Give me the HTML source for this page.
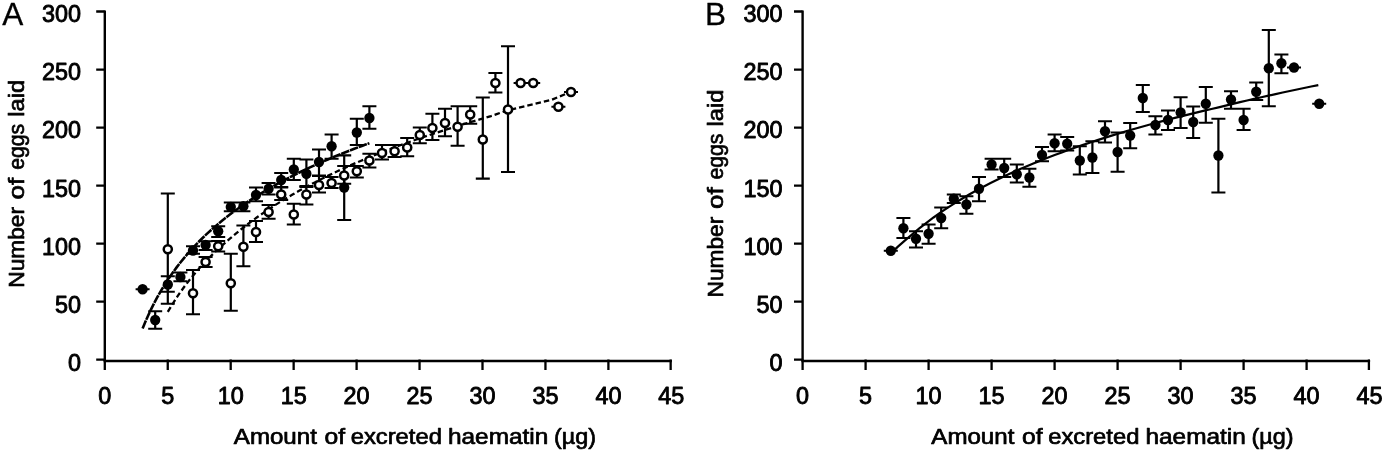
<!DOCTYPE html>
<html lang="en"><head><meta charset="utf-8"><title>Figure</title>
<style>
html,body{margin:0;padding:0;background:#fff}
svg{display:block;filter:grayscale(1)}
text{font-family:"Liberation Sans",sans-serif;fill:#000;stroke:#000;stroke-linejoin:round}
.t{font-size:23.6px;stroke-width:.9px}
.al{font-size:21.6px;stroke-width:.7px}
.yl{font-size:22.8px;stroke-width:.7px}
.pl{font-size:31.5px;stroke-width:.3px}
</style></head><body>
<svg width="1400" height="456" viewBox="0 0 1400 456">
<rect width="1400" height="456" fill="#fff"/>
<path d="M104.80 10.40V361.00" fill="none" stroke="#000" stroke-width="2.4"/>
<path d="M103.60 361.00H671.85" fill="none" stroke="#000" stroke-width="2.4"/>
<path d="M96.20 359.70H104.80M96.20 301.67H104.80M96.20 243.63H104.80M96.20 185.60H104.80M96.20 127.57H104.80M96.20 69.53H104.80M96.20 11.50H104.80M104.80 359.60V369.90M167.75 359.60V369.90M230.70 359.60V369.90M293.65 359.60V369.90M356.60 359.60V369.90M419.55 359.60V369.90M482.50 359.60V369.90M545.45 359.60V369.90M608.40 359.60V369.90M670.65 359.60V369.90" stroke="#000" stroke-width="2.3" fill="none"/>
<text x="68.10" y="370.60" class="t" textLength="13.00" lengthAdjust="spacingAndGlyphs">0</text>
<text x="55.10" y="312.57" class="t" textLength="26.00" lengthAdjust="spacingAndGlyphs">50</text>
<text x="42.10" y="254.53" class="t" textLength="39.00" lengthAdjust="spacingAndGlyphs">100</text>
<text x="42.10" y="196.50" class="t" textLength="39.00" lengthAdjust="spacingAndGlyphs">150</text>
<text x="42.10" y="138.47" class="t" textLength="39.00" lengthAdjust="spacingAndGlyphs">200</text>
<text x="42.10" y="80.43" class="t" textLength="39.00" lengthAdjust="spacingAndGlyphs">250</text>
<text x="42.10" y="22.40" class="t" textLength="39.00" lengthAdjust="spacingAndGlyphs">300</text>
<text x="98.30" y="404.0" class="t" textLength="13.00" lengthAdjust="spacingAndGlyphs">0</text>
<text x="161.25" y="404.0" class="t" textLength="13.00" lengthAdjust="spacingAndGlyphs">5</text>
<text x="217.70" y="404.0" class="t" textLength="26.00" lengthAdjust="spacingAndGlyphs">10</text>
<text x="280.65" y="404.0" class="t" textLength="26.00" lengthAdjust="spacingAndGlyphs">15</text>
<text x="343.60" y="404.0" class="t" textLength="26.00" lengthAdjust="spacingAndGlyphs">20</text>
<text x="406.55" y="404.0" class="t" textLength="26.00" lengthAdjust="spacingAndGlyphs">25</text>
<text x="469.50" y="404.0" class="t" textLength="26.00" lengthAdjust="spacingAndGlyphs">30</text>
<text x="532.45" y="404.0" class="t" textLength="26.00" lengthAdjust="spacingAndGlyphs">35</text>
<text x="595.40" y="404.0" class="t" textLength="26.00" lengthAdjust="spacingAndGlyphs">40</text>
<text x="658.35" y="404.0" class="t" textLength="26.00" lengthAdjust="spacingAndGlyphs">45</text>
<path d="M802.60 10.40V361.00" fill="none" stroke="#000" stroke-width="2.4"/>
<path d="M801.40 361.00H1370.10" fill="none" stroke="#000" stroke-width="2.4"/>
<path d="M794.00 359.70H802.60M794.00 301.67H802.60M794.00 243.63H802.60M794.00 185.60H802.60M794.00 127.57H802.60M794.00 69.53H802.60M794.00 11.50H802.60M802.60 359.60V369.90M865.60 359.60V369.90M928.60 359.60V369.90M991.60 359.60V369.90M1054.60 359.60V369.90M1117.60 359.60V369.90M1180.60 359.60V369.90M1243.60 359.60V369.90M1306.60 359.60V369.90M1368.90 359.60V369.90" stroke="#000" stroke-width="2.3" fill="none"/>
<text x="769.50" y="370.60" class="t" textLength="13.00" lengthAdjust="spacingAndGlyphs">0</text>
<text x="756.50" y="312.57" class="t" textLength="26.00" lengthAdjust="spacingAndGlyphs">50</text>
<text x="743.50" y="254.53" class="t" textLength="39.00" lengthAdjust="spacingAndGlyphs">100</text>
<text x="743.50" y="196.50" class="t" textLength="39.00" lengthAdjust="spacingAndGlyphs">150</text>
<text x="743.50" y="138.47" class="t" textLength="39.00" lengthAdjust="spacingAndGlyphs">200</text>
<text x="743.50" y="80.43" class="t" textLength="39.00" lengthAdjust="spacingAndGlyphs">250</text>
<text x="743.50" y="22.40" class="t" textLength="39.00" lengthAdjust="spacingAndGlyphs">300</text>
<text x="796.10" y="404.0" class="t" textLength="13.00" lengthAdjust="spacingAndGlyphs">0</text>
<text x="859.10" y="404.0" class="t" textLength="13.00" lengthAdjust="spacingAndGlyphs">5</text>
<text x="915.60" y="404.0" class="t" textLength="26.00" lengthAdjust="spacingAndGlyphs">10</text>
<text x="978.60" y="404.0" class="t" textLength="26.00" lengthAdjust="spacingAndGlyphs">15</text>
<text x="1041.60" y="404.0" class="t" textLength="26.00" lengthAdjust="spacingAndGlyphs">20</text>
<text x="1104.60" y="404.0" class="t" textLength="26.00" lengthAdjust="spacingAndGlyphs">25</text>
<text x="1167.60" y="404.0" class="t" textLength="26.00" lengthAdjust="spacingAndGlyphs">30</text>
<text x="1230.60" y="404.0" class="t" textLength="26.00" lengthAdjust="spacingAndGlyphs">35</text>
<text x="1293.60" y="404.0" class="t" textLength="26.00" lengthAdjust="spacingAndGlyphs">40</text>
<text x="1356.60" y="404.0" class="t" textLength="26.00" lengthAdjust="spacingAndGlyphs">45</text>
<path d="M167.80 193.50V303.75M160.80 193.50h14.0M160.80 303.75h14.0M193.00 270.00V314.25M186.00 270.00h14.0M186.00 314.25h14.0M205.60 257.00V267.00M198.60 257.00h14.0M198.60 267.00h14.0M218.20 241.00V251.50M211.20 241.00h14.0M211.20 251.50h14.0M230.80 253.75V310.75M223.80 253.75h14.0M223.80 310.75h14.0M243.40 225.50V266.25M236.40 225.50h14.0M236.40 266.25h14.0M256.00 221.00V242.00M249.00 221.00h14.0M249.00 242.00h14.0M268.60 205.00V218.75M261.60 205.00h14.0M261.60 218.75h14.0M281.20 187.50V200.00M274.20 187.50h14.0M274.20 200.00h14.0M293.80 203.75V224.50M286.80 203.75h14.0M286.80 224.50h14.0M306.40 186.00V204.50M299.40 186.00h14.0M299.40 204.50h14.0M319.00 176.00V192.50M312.00 176.00h14.0M312.00 192.50h14.0M331.60 177.00V188.00M324.60 177.00h14.0M324.60 188.00h14.0M344.20 166.00V183.75M337.20 166.00h14.0M337.20 183.75h14.0M356.80 166.00V177.50M349.80 166.00h14.0M349.80 177.50h14.0M369.40 153.75V167.50M362.40 153.75h14.0M362.40 167.50h14.0M382.00 145.00V159.50M375.00 145.00h14.0M375.00 159.50h14.0M394.60 145.00V157.00M387.60 145.00h14.0M387.60 157.00h14.0M407.20 138.00V156.25M400.20 138.00h14.0M400.20 156.25h14.0M419.80 127.50V143.25M412.80 127.50h14.0M412.80 143.25h14.0M432.40 113.75V140.00M425.40 113.75h14.0M425.40 140.00h14.0M445.00 108.75V136.25M438.00 108.75h14.0M438.00 136.25h14.0M457.60 106.25V145.75M450.60 106.25h14.0M450.60 145.75h14.0M470.20 106.25V123.75M463.20 106.25h14.0M463.20 123.75h14.0M482.80 97.50V178.60M475.80 97.50h14.0M475.80 178.60h14.0M495.40 73.00V92.50M488.40 73.00h14.0M488.40 92.50h14.0M508.00 46.25V172.00M501.00 46.25h14.0M501.00 172.00h14.0M513.60 83.00h14.0M526.20 83.00h14.0M551.40 106.75h14.0M564.00 92.00h14.0" stroke="#000" stroke-width="2.2" fill="none"/>
<path d="M135.60 289.25h14.0M155.20 311.25V328.75M148.20 311.25h14.0M148.20 328.75h14.0M167.80 276.25V291.75M160.80 276.25h14.0M160.80 291.75h14.0M180.40 272.50V281.25M173.40 272.50h14.0M173.40 281.25h14.0M193.00 246.25V253.75M186.00 246.25h14.0M186.00 253.75h14.0M205.60 241.25V250.00M198.60 241.25h14.0M198.60 250.00h14.0M218.20 226.25V237.00M211.20 226.25h14.0M211.20 237.00h14.0M230.80 202.50V211.25M223.80 202.50h14.0M223.80 211.25h14.0M243.40 202.50V211.25M236.40 202.50h14.0M236.40 211.25h14.0M256.00 187.50V201.25M249.00 187.50h14.0M249.00 201.25h14.0M268.60 183.00V194.50M261.60 183.00h14.0M261.60 194.50h14.0M281.20 173.00V187.00M274.20 173.00h14.0M274.20 187.00h14.0M293.80 158.75V180.00M286.80 158.75h14.0M286.80 180.00h14.0M306.40 159.50V187.00M299.40 159.50h14.0M299.40 187.00h14.0M319.00 149.50V175.50M312.00 149.50h14.0M312.00 175.50h14.0M331.60 134.50V158.75M324.60 134.50h14.0M324.60 158.75h14.0M344.20 155.30V220.00M337.20 155.30h14.0M337.20 220.00h14.0M356.80 118.75V145.00M349.80 118.75h14.0M349.80 145.00h14.0M369.40 106.25V128.75M362.40 106.25h14.0M362.40 128.75h14.0" stroke="#000" stroke-width="2.2" fill="none"/>
<path d="M167.80 311.88L173.47 302.52L179.14 293.90L184.81 286.03L190.48 278.73L196.15 271.92L201.82 265.52L207.49 259.50L213.16 253.80L218.83 248.41L224.50 243.28L230.17 238.40L235.84 233.61L241.51 229.01L247.18 224.59L252.85 220.35L258.52 216.27L264.19 212.33L269.86 208.54L275.53 204.87L281.20 201.32L286.87 197.88L292.54 194.55L298.21 191.31L303.88 188.18L309.55 185.12L315.22 182.16L320.89 179.27L326.56 176.45L332.23 173.71L337.90 171.03L343.57 168.42L349.24 165.87L354.91 163.38L360.58 160.95L366.25 158.56L371.92 156.23L377.59 153.95L383.26 151.72L388.93 149.53L394.60 147.38L400.27 145.27L405.94 143.21L411.61 141.18L417.28 139.19L422.95 137.24L428.62 135.32L434.29 133.43L439.96 131.58L445.63 129.76L451.30 127.97L456.97 126.20L462.64 124.47L468.31 122.76L473.98 121.08L479.65 119.42L485.32 117.79L490.99 116.05L496.66 114.08L502.33 112.13L508.00 110.20L551.30 99.90L570.70 92.00" fill="none" stroke="#000" stroke-width="2.3" stroke-dasharray="5.5 3"/>
<path d="M142.60 328.52L146.38 319.44L150.16 311.16L153.94 303.53L157.72 296.48L161.50 289.91L165.28 283.76L169.06 277.99L172.84 272.54L176.62 267.39L180.40 262.51L184.18 257.86L187.96 253.43L191.74 249.20L195.52 245.14L199.30 241.26L203.08 237.52L206.86 233.93L210.64 230.46L214.42 227.12L218.20 223.89L221.98 220.77L225.76 217.75L229.54 214.82L233.32 211.97L237.10 209.21L240.88 206.53L244.66 203.92L248.44 201.38L252.22 198.91L256.00 196.49L259.78 194.14L263.56 191.85L267.34 189.61L271.12 187.42L274.90 185.28L278.68 183.18L282.46 181.14L286.24 179.13L290.02 177.17L293.80 175.24L297.58 173.36L301.36 171.51L305.14 169.69L308.92 167.91L312.70 166.17L316.48 164.45L320.26 162.76L324.04 161.11L327.82 159.48L331.60 157.88L335.38 156.30L339.16 154.76L342.94 153.23L346.72 151.73L350.50 150.26L354.28 148.80L358.06 147.37L361.84 145.96L365.62 144.57L369.40 143.20" fill="none" stroke="#000" stroke-width="2.6" stroke-dasharray="8.6 0.8"/>
<circle cx="167.80" cy="249.25" r="4.05" fill="#fff" stroke="#000" stroke-width="2.5"/><circle cx="193.00" cy="293.25" r="4.05" fill="#fff" stroke="#000" stroke-width="2.5"/><circle cx="205.60" cy="262.00" r="4.05" fill="#fff" stroke="#000" stroke-width="2.5"/><circle cx="218.20" cy="246.25" r="4.05" fill="#fff" stroke="#000" stroke-width="2.5"/><circle cx="230.80" cy="283.25" r="4.05" fill="#fff" stroke="#000" stroke-width="2.5"/><circle cx="243.40" cy="246.75" r="4.05" fill="#fff" stroke="#000" stroke-width="2.5"/><circle cx="256.00" cy="232.00" r="4.05" fill="#fff" stroke="#000" stroke-width="2.5"/><circle cx="268.60" cy="212.00" r="4.05" fill="#fff" stroke="#000" stroke-width="2.5"/><circle cx="281.20" cy="194.50" r="4.05" fill="#fff" stroke="#000" stroke-width="2.5"/><circle cx="293.80" cy="214.50" r="4.05" fill="#fff" stroke="#000" stroke-width="2.5"/><circle cx="306.40" cy="194.50" r="4.05" fill="#fff" stroke="#000" stroke-width="2.5"/><circle cx="319.00" cy="185.00" r="4.05" fill="#fff" stroke="#000" stroke-width="2.5"/><circle cx="331.60" cy="183.00" r="4.05" fill="#fff" stroke="#000" stroke-width="2.5"/><circle cx="344.20" cy="175.50" r="4.05" fill="#fff" stroke="#000" stroke-width="2.5"/><circle cx="356.80" cy="171.25" r="4.05" fill="#fff" stroke="#000" stroke-width="2.5"/><circle cx="369.40" cy="160.50" r="4.05" fill="#fff" stroke="#000" stroke-width="2.5"/><circle cx="382.00" cy="153.00" r="4.05" fill="#fff" stroke="#000" stroke-width="2.5"/><circle cx="394.60" cy="151.25" r="4.05" fill="#fff" stroke="#000" stroke-width="2.5"/><circle cx="407.20" cy="147.50" r="4.05" fill="#fff" stroke="#000" stroke-width="2.5"/><circle cx="419.80" cy="135.00" r="4.05" fill="#fff" stroke="#000" stroke-width="2.5"/><circle cx="432.40" cy="128.00" r="4.05" fill="#fff" stroke="#000" stroke-width="2.5"/><circle cx="445.00" cy="123.00" r="4.05" fill="#fff" stroke="#000" stroke-width="2.5"/><circle cx="457.60" cy="126.75" r="4.05" fill="#fff" stroke="#000" stroke-width="2.5"/><circle cx="470.20" cy="114.50" r="4.05" fill="#fff" stroke="#000" stroke-width="2.5"/><circle cx="482.80" cy="139.50" r="4.05" fill="#fff" stroke="#000" stroke-width="2.5"/><circle cx="495.40" cy="83.00" r="4.05" fill="#fff" stroke="#000" stroke-width="2.5"/><circle cx="508.00" cy="109.50" r="4.05" fill="#fff" stroke="#000" stroke-width="2.5"/><circle cx="520.60" cy="83.00" r="4.05" fill="#fff" stroke="#000" stroke-width="2.5"/><circle cx="533.20" cy="83.00" r="4.05" fill="#fff" stroke="#000" stroke-width="2.5"/><circle cx="558.40" cy="106.75" r="4.05" fill="#fff" stroke="#000" stroke-width="2.5"/><circle cx="571.00" cy="92.00" r="4.05" fill="#fff" stroke="#000" stroke-width="2.5"/>
<circle cx="142.60" cy="289.25" r="5.15"/><circle cx="155.20" cy="320.00" r="5.15"/><circle cx="167.80" cy="284.50" r="5.15"/><circle cx="180.40" cy="277.00" r="5.15"/><circle cx="193.00" cy="250.50" r="5.15"/><circle cx="205.60" cy="245.00" r="5.15"/><circle cx="218.20" cy="231.25" r="5.15"/><circle cx="230.80" cy="207.00" r="5.15"/><circle cx="243.40" cy="206.25" r="5.15"/><circle cx="256.00" cy="195.00" r="5.15"/><circle cx="268.60" cy="188.75" r="5.15"/><circle cx="281.20" cy="180.00" r="5.15"/><circle cx="293.80" cy="169.50" r="5.15"/><circle cx="306.40" cy="173.75" r="5.15"/><circle cx="319.00" cy="162.00" r="5.15"/><circle cx="331.60" cy="146.25" r="5.15"/><circle cx="344.20" cy="187.50" r="5.15"/><circle cx="356.80" cy="132.50" r="5.15"/><circle cx="369.40" cy="118.00" r="5.15"/>
<path d="M883.80 250.75h14.0M903.40 218.00V238.00M896.40 218.00h14.0M896.40 238.00h14.0M916.00 231.25V247.50M909.00 231.25h14.0M909.00 247.50h14.0M928.60 224.50V243.75M921.60 224.50h14.0M921.60 243.75h14.0M941.20 207.50V228.25M934.20 207.50h14.0M934.20 228.25h14.0M953.80 194.50V203.00M946.80 194.50h14.0M946.80 203.00h14.0M966.40 196.25V213.75M959.40 196.25h14.0M959.40 213.75h14.0M979.00 177.00V201.25M972.00 177.00h14.0M972.00 201.25h14.0M991.60 158.75V169.50M984.60 158.75h14.0M984.60 169.50h14.0M1004.20 158.75V177.00M997.20 158.75h14.0M997.20 177.00h14.0M1016.80 164.50V182.50M1009.80 164.50h14.0M1009.80 182.50h14.0M1029.40 168.75V186.75M1022.40 168.75h14.0M1022.40 186.75h14.0M1042.00 147.00V161.25M1035.00 147.00h14.0M1035.00 161.25h14.0M1054.60 134.50V151.25M1047.60 134.50h14.0M1047.60 151.25h14.0M1067.20 137.00V150.50M1060.20 137.00h14.0M1060.20 150.50h14.0M1079.80 146.25V174.50M1072.80 146.25h14.0M1072.80 174.50h14.0M1092.40 141.25V173.00M1085.40 141.25h14.0M1085.40 173.00h14.0M1105.00 121.25V142.50M1098.00 121.25h14.0M1098.00 142.50h14.0M1117.60 132.50V171.75M1110.60 132.50h14.0M1110.60 171.75h14.0M1130.20 123.00V148.25M1123.20 123.00h14.0M1123.20 148.25h14.0M1142.80 85.00V112.00M1135.80 85.00h14.0M1135.80 112.00h14.0M1155.40 116.25V134.50M1148.40 116.25h14.0M1148.40 134.50h14.0M1168.00 110.50V130.00M1161.00 110.50h14.0M1161.00 130.00h14.0M1180.60 97.25V128.00M1173.60 97.25h14.0M1173.60 128.00h14.0M1193.20 106.50V138.00M1186.20 106.50h14.0M1186.20 138.00h14.0M1205.80 87.00V122.75M1198.80 87.00h14.0M1198.80 122.75h14.0M1218.40 118.75V192.50M1211.40 118.75h14.0M1211.40 192.50h14.0M1231.00 91.25V108.75M1224.00 91.25h14.0M1224.00 108.75h14.0M1243.60 108.75V130.00M1236.60 108.75h14.0M1236.60 130.00h14.0M1256.20 82.50V100.00M1249.20 82.50h14.0M1249.20 100.00h14.0M1268.80 30.00V106.25M1261.80 30.00h14.0M1261.80 106.25h14.0M1281.40 54.50V73.25M1274.40 54.50h14.0M1274.40 73.25h14.0M1287.00 67.50h14.0M1312.20 103.75h14.0" stroke="#000" stroke-width="2.2" fill="none"/>
<path d="M890.80 253.34L897.93 246.61L905.05 240.42L912.18 234.46L919.30 228.46L926.43 222.81L933.55 217.48L940.68 212.43L947.80 207.64L954.93 203.07L962.05 198.72L969.18 194.55L976.30 190.56L983.43 186.73L990.55 183.05L997.68 179.50L1004.80 176.08L1011.93 172.78L1019.06 169.59L1026.18 166.51L1033.31 163.52L1040.43 160.62L1047.56 157.81L1054.68 155.07L1061.81 152.42L1068.93 149.84L1076.06 147.32L1083.18 144.87L1090.31 142.48L1097.43 140.15L1104.56 137.87L1111.68 135.65L1118.81 133.48L1125.93 131.36L1133.06 129.28L1140.19 127.25L1147.31 125.26L1154.44 123.31L1161.56 121.40L1168.69 119.52L1175.81 117.69L1182.94 115.88L1190.06 114.12L1197.19 112.38L1204.31 110.67L1211.44 109.00L1218.56 107.35L1225.69 105.60L1232.81 103.89L1239.94 102.19L1247.07 100.53L1254.19 98.88L1261.32 97.26L1268.44 95.67L1275.57 94.09L1282.69 92.54L1289.82 91.01L1296.94 89.50L1304.07 88.01L1311.19 86.54L1318.32 85.09" fill="none" stroke="#000" stroke-width="2.2"/>
<circle cx="890.80" cy="250.75" r="5.15"/><circle cx="903.40" cy="228.25" r="5.15"/><circle cx="916.00" cy="238.75" r="5.15"/><circle cx="928.60" cy="233.75" r="5.15"/><circle cx="941.20" cy="218.00" r="5.15"/><circle cx="953.80" cy="198.75" r="5.15"/><circle cx="966.40" cy="204.50" r="5.15"/><circle cx="979.00" cy="188.75" r="5.15"/><circle cx="991.60" cy="164.50" r="5.15"/><circle cx="1004.20" cy="168.00" r="5.15"/><circle cx="1016.80" cy="174.25" r="5.15"/><circle cx="1029.40" cy="177.50" r="5.15"/><circle cx="1042.00" cy="155.00" r="5.15"/><circle cx="1054.60" cy="143.25" r="5.15"/><circle cx="1067.20" cy="143.75" r="5.15"/><circle cx="1079.80" cy="160.50" r="5.15"/><circle cx="1092.40" cy="157.50" r="5.15"/><circle cx="1105.00" cy="131.25" r="5.15"/><circle cx="1117.60" cy="152.00" r="5.15"/><circle cx="1130.20" cy="135.50" r="5.15"/><circle cx="1142.80" cy="98.00" r="5.15"/><circle cx="1155.40" cy="125.00" r="5.15"/><circle cx="1168.00" cy="120.00" r="5.15"/><circle cx="1180.60" cy="112.50" r="5.15"/><circle cx="1193.20" cy="122.00" r="5.15"/><circle cx="1205.80" cy="103.75" r="5.15"/><circle cx="1218.40" cy="155.50" r="5.15"/><circle cx="1231.00" cy="99.50" r="5.15"/><circle cx="1243.60" cy="120.00" r="5.15"/><circle cx="1256.20" cy="91.75" r="5.15"/><circle cx="1268.80" cy="68.25" r="5.15"/><circle cx="1281.40" cy="63.25" r="5.15"/><circle cx="1294.00" cy="67.50" r="5.15"/><circle cx="1319.20" cy="103.75" r="5.15"/>
<text x="2.3" y="25.2" class="pl">A</text>
<text x="705" y="25.2" class="pl">B</text>
<text x="233.88" y="443.60" class="al" textLength="82.97" lengthAdjust="spacingAndGlyphs">Amount</text>
<text x="324.58" y="443.60" class="al" textLength="20.54" lengthAdjust="spacingAndGlyphs">of</text>
<text x="350.73" y="443.60" class="al" textLength="91.13" lengthAdjust="spacingAndGlyphs">excreted</text>
<text x="447.99" y="443.60" class="al" textLength="100.26" lengthAdjust="spacingAndGlyphs">haematin</text>
<text x="554.00" y="443.60" class="al" textLength="42.09" lengthAdjust="spacingAndGlyphs">(µg)</text>
<text transform="translate(23.60 286.30) rotate(-90)" x="-1.42" y="0" class="yl" textLength="80.70" lengthAdjust="spacingAndGlyphs">Number</text>
<text transform="translate(23.60 286.30) rotate(-90)" x="86.93" y="0" class="yl" textLength="21.68" lengthAdjust="spacingAndGlyphs">of</text>
<text transform="translate(23.60 286.30) rotate(-90)" x="116.45" y="0" class="yl" textLength="45.86" lengthAdjust="spacingAndGlyphs">eggs</text>
<text transform="translate(23.60 286.30) rotate(-90)" x="169.56" y="0" class="yl" textLength="36.82" lengthAdjust="spacingAndGlyphs">laid</text>
<text x="931.38" y="443.60" class="al" textLength="82.97" lengthAdjust="spacingAndGlyphs">Amount</text>
<text x="1022.08" y="443.60" class="al" textLength="20.54" lengthAdjust="spacingAndGlyphs">of</text>
<text x="1048.23" y="443.60" class="al" textLength="91.13" lengthAdjust="spacingAndGlyphs">excreted</text>
<text x="1145.49" y="443.60" class="al" textLength="100.26" lengthAdjust="spacingAndGlyphs">haematin</text>
<text x="1251.50" y="443.60" class="al" textLength="42.09" lengthAdjust="spacingAndGlyphs">(µg)</text>
<text transform="translate(722.60 296.00) rotate(-90)" x="-1.42" y="0" class="yl" textLength="80.70" lengthAdjust="spacingAndGlyphs">Number</text>
<text transform="translate(722.60 296.00) rotate(-90)" x="86.93" y="0" class="yl" textLength="21.68" lengthAdjust="spacingAndGlyphs">of</text>
<text transform="translate(722.60 296.00) rotate(-90)" x="116.45" y="0" class="yl" textLength="45.86" lengthAdjust="spacingAndGlyphs">eggs</text>
<text transform="translate(722.60 296.00) rotate(-90)" x="169.56" y="0" class="yl" textLength="36.82" lengthAdjust="spacingAndGlyphs">laid</text>
</svg>
</body></html>
